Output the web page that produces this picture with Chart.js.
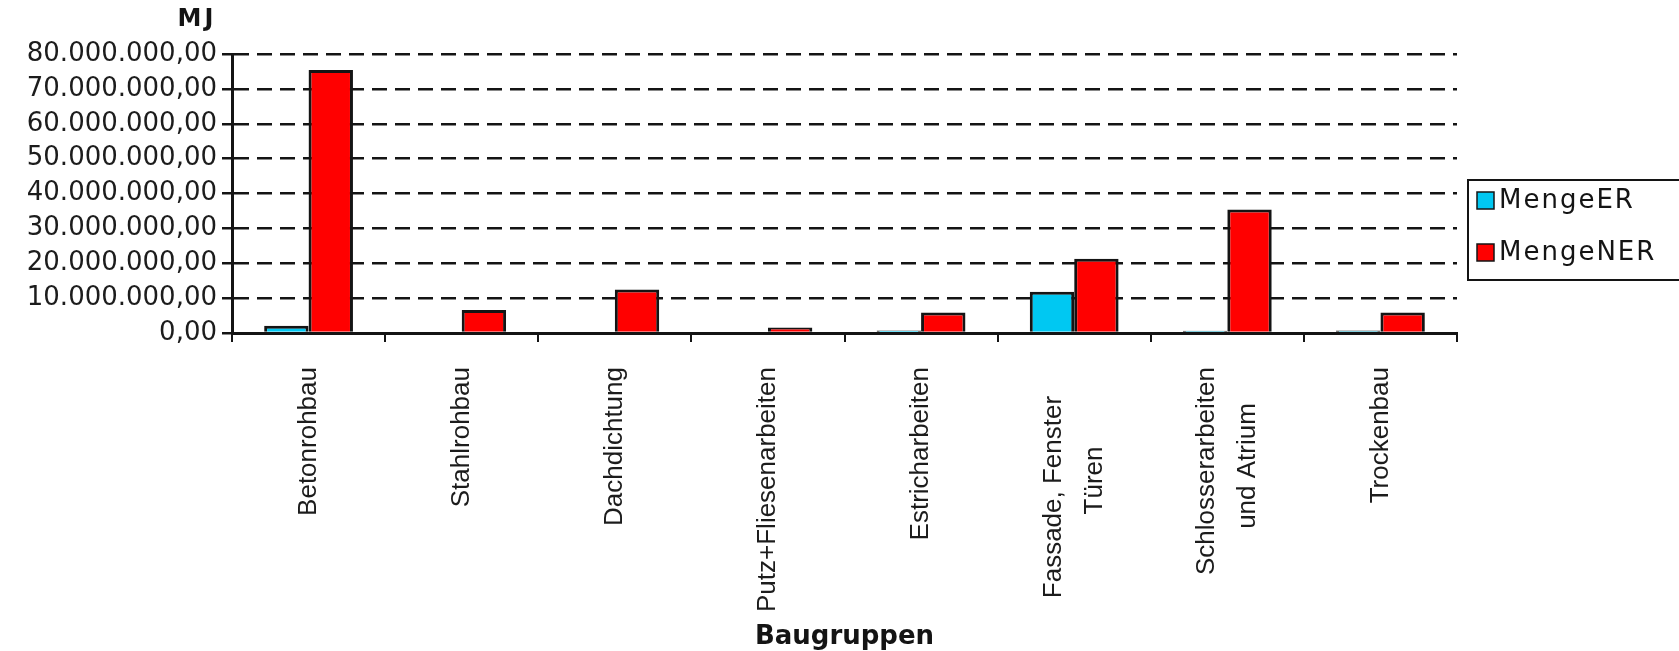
<!DOCTYPE html>
<html>
<head>
<meta charset="utf-8">
<script src="https://cdn.jsdelivr.net/npm/chart.js@4.4.1/dist/chart.umd.min.js"></script>
<style>
  html, body { margin: 0; padding: 0; background: #fff; }
  #wrap { width: 1679px; height: 651px; position: relative; }
</style>
</head>
<body>
<div id="wrap"><canvas id="chart"></canvas></div>
<script>
// Baugruppen / MJ
const categories = [
    'Betonrohbau',
    'Stahlrohbau',
    'Dachdichtung',
    'Putz+Fliesenarbeiten',
    'Estricharbeiten',
    ['Fassade, Fenster    ', 'Türen           '],
    ['Schlosserarbeiten', 'und Atrium     '],
    'Trockenbau'
];
const mengeER  = [2100000, 0, 0, 0, 750000, 11800000, 650000, 700000];
const mengeNER = [75400000, 6600000, 12500000, 1600000, 5900000, 21300000, 35400000, 5900000];
const yTickValues = [0, 10000000, 20000000, 30000000, 40000000, 50000000, 60000000, 70000000, 80000000];
const yTickLabels = ['0,00', '10.000.000,00', '20.000.000,00', '30.000.000,00', '40.000.000,00',
    '50.000.000,00', '60.000.000,00', '70.000.000,00', '80.000.000,00'];

const INK = '#141414';
const LABEL_SIZE = 26;
const LABEL_LH = 1.6; // line spacing of the two-line category labels

// "MJ" unit label and the framed legend on the right
const extras = {
    id: 'extras',
    afterDraw(chart) {
        const ctx = chart.ctx;
        ctx.save();
        ctx.fillStyle = INK;
        ctx.font = 'bold 24px "DejaVu Sans", sans-serif';
        ctx.letterSpacing = '3px';
        ctx.textAlign = 'center';
        ctx.textBaseline = 'middle';
        ctx.fillText('MJ', 197, 20);

        ctx.strokeStyle = INK;
        ctx.lineWidth = 2;
        ctx.strokeRect(1468, 180, 240, 100);

        ctx.font = '26px "DejaVu Sans", sans-serif';
        ctx.letterSpacing = '2px';
        ctx.textAlign = 'left';
        chart.data.datasets.forEach((ds, i) => {
            const y = 192 + i * 52;
            ctx.fillStyle = ds.backgroundColor;
            ctx.fillRect(1477, y, 17, 17);
            ctx.lineWidth = 1.5;
            ctx.strokeRect(1477, y, 17, 17);
            ctx.fillStyle = INK;
            ctx.fillText(ds.label, 1499, y + 9);
        });
        ctx.restore();
    }
};

new Chart(document.getElementById('chart'), {
    type: 'bar',
    data: {
        labels: categories,
        datasets: [
            { label: 'MengeER', data: mengeER, backgroundColor: '#00c8f2', borderColor: INK, borderWidth: 3 },
            { label: 'MengeNER', data: mengeNER, backgroundColor: '#ff0000', borderColor: INK, borderWidth: 3 }
        ]
    },
    options: {
        responsive: true,
        maintainAspectRatio: false,
        animation: false,
        layout: { padding: { top: 54, right: 222, bottom: 0, left: 0 } },
        datasets: { bar: { categoryPercentage: 0.58, barPercentage: 1.0 } },
        plugins: {
            legend: { display: false },
            tooltip: { enabled: false }
        },
        scales: {
            x: {
                grid: { display: true, drawOnChartArea: false, drawTicks: true, tickLength: 9, color: INK, lineWidth: 2 },
                border: { color: INK, width: 3 },
                ticks: {
                    autoSkip: false,
                    minRotation: 90,
                    maxRotation: 90,
                    padding: 25,
                    color: '#1c1c1c',
                    font: { family: '"Liberation Sans", Arial, sans-serif', size: LABEL_SIZE, lineHeight: LABEL_LH },
                    // shift everything half a line left; single-line labels skip the built-in shift
                    // (transparent backdrop), so two-line labels end up centred on their category
                    labelOffset: -LABEL_SIZE * LABEL_LH / 2,
                    showLabelBackdrop: (c) => !Array.isArray(categories[c.index]),
                    backdropColor: 'rgba(0,0,0,0)'
                },
                title: {
                    display: true,
                    text: 'Baugruppen',
                    color: INK,
                    padding: { top: 0, bottom: -2 },
                    font: { family: '"DejaVu Sans", sans-serif', size: 26, weight: 'bold' }
                },
                afterFit(scale) { scale.height = 318; }
            },
            y: {
                min: 0,
                max: 80000000,
                afterBuildTicks(scale) { scale.ticks = yTickValues.map(v => ({ value: v })); },
                grid: { color: INK, lineWidth: 2.5, tickLength: 10, tickColor: INK, tickWidth: 2.5 },
                border: { color: INK, width: 3, dash: [15, 8] },
                ticks: {
                    padding: 5,
                    color: '#1c1c1c',
                    font: { family: '"DejaVu Sans", sans-serif', size: 26 },
                    callback: (v, i) => yTickLabels[i]
                },
                afterFit(scale) { scale.width = 232; }
            }
        }
    },
    plugins: [extras]
});
</script>
</body>
</html>
